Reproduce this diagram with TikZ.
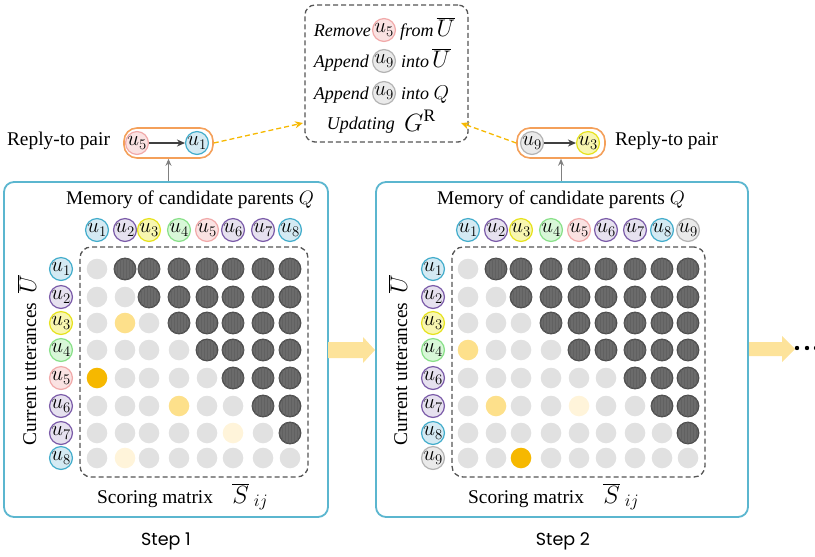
\RequirePackage{fix-cm}
\documentclass[tikz,border=0pt]{standalone}
\usepackage{fontspec}
\setmainfont{Liberation Serif}
\newfontfamily\stepfont{Poppins}
\usetikzlibrary{arrows.meta,patterns}
\definecolor{cyanbox}{HTML}{5BB6CF}
\definecolor{orangebox}{HTML}{F4A05A}
\definecolor{dashor}{HTML}{F6B800}
\definecolor{arrowyel}{HTML}{FDE39A}
\definecolor{cellgray}{HTML}{E1E1E1}
\definecolor{celldark}{HTML}{6B6B6B}
\definecolor{celldarkb}{HTML}{4E4E4E}
\definecolor{cellyel}{HTML}{FDE08B}
\definecolor{cellor}{HTML}{F6B800}
\definecolor{cellpale}{HTML}{FFF4DA}
\definecolor{bluef}{HTML}{D4EAF3}\definecolor{blued}{HTML}{41ACCB}
\definecolor{purf}{HTML}{E6E1EF}\definecolor{purd}{HTML}{7A5AA8}
\definecolor{yelf}{HTML}{F8F6B0}\definecolor{yeld}{HTML}{E6E21C}
\definecolor{grnf}{HTML}{D8F7D8}\definecolor{grnd}{HTML}{88E088}
\definecolor{pnkf}{HTML}{FAE2E2}\definecolor{pnkd}{HTML}{F1A9A9}
\definecolor{gryf}{HTML}{EAEAEA}\definecolor{gryd}{HTML}{B3B3B3}
\definecolor{dashgray}{HTML}{555555}
\newcommand\bigUbar{{\fontsize{24}{24}\selectfont$\overline{U}$}}
\newcommand\bigSbar{{\fontsize{25}{25}\selectfont$\overline{S}_{\;ij}$}}
\begin{document}
\begin{tikzpicture}[x=1pt,y=-1pt,
  txt/.style={font=\fontsize{19.4}{23}\selectfont, inner sep=0pt},
  itx/.style={font=\fontsize{18}{20}\selectfont\itshape, inner sep=0pt},
  ulab/.style={circle, minimum size=20.5pt, inner sep=0pt, line width=1.2pt, font=\fontsize{21}{21}\selectfont},
  lab1/.style={ulab, fill=bluef, draw=blued},
  lab2/.style={ulab, fill=purf, draw=purd},
  lab3/.style={ulab, fill=yelf, draw=yeld},
  lab4/.style={ulab, fill=grnf, draw=grnd},
  lab5/.style={ulab, fill=pnkf, draw=pnkd},
  lab6/.style={ulab, fill=purf, draw=purd},
  lab7/.style={ulab, fill=purf, draw=purd},
  lab8/.style={ulab, fill=bluef, draw=blued},
  lab9/.style={ulab, fill=gryf, draw=gryd},
  cellbase/.style={circle, minimum size=20.6pt, inner sep=0pt},
  cellL/.style={cellbase, fill=cellgray},
  cellY/.style={cellbase, fill=cellyel},
  cellO/.style={cellbase, fill=cellor},
  cellP/.style={cellbase, fill=cellpale},
  cellD/.style={cellbase, minimum size=21.5pt, fill=celldark, draw=celldarkb, line width=1.3pt,
    postaction={pattern=vertical lines, pattern color=black!62}},
  stepbox/.style={draw=cyanbox, line width=1.8pt, rounded corners=10pt, inner sep=0pt},
  gridbox/.style={draw=dashgray, line width=1.3pt, dash pattern=on 5pt off 3pt, rounded corners=11pt, inner sep=0pt},
  pairbox/.style={draw=orangebox, line width=1.6pt, rounded corners=13pt, inner sep=0pt},
  grayarrow/.style={draw=gray, line width=1pt, -{Stealth[length=7pt,width=6pt]}},
  innerarrow/.style={draw=black!75, line width=1.2pt, -{Stealth[length=8pt,width=7pt]}},
  dasharrow/.style={draw=dashor, line width=1.3pt, dash pattern=on 5pt off 3pt, -{Stealth[length=8pt,width=7pt]}},
  steplabel/.style={font=\stepfont\fontsize{17.5}{18}\selectfont, inner sep=0pt},
]
\useasboundingbox (0,0) rectangle (815,557);

% step boxes
\node[stepbox, minimum width=324pt, minimum height=335pt] (s1) at (166,349.5) {};
\node[stepbox, minimum width=372pt, minimum height=335pt] (s2) at (562,349.5) {};

% grid boxes
\node[gridbox, minimum width=228pt, minimum height=230pt] (g1) at (194,362) {};
\node[gridbox, minimum width=253pt, minimum height=230pt] (g2) at (578.5,362) {};

% top box
\node[gridbox, rounded corners=10pt, minimum width=163pt, minimum height=137pt] (top) at (386.5,73.5) {};
\node[itx, anchor=base east] (r1a) at (371,36) {Remove};
\node[lab5] (r1u) at (384,30) {$u_5$};
\node[itx, anchor=base west] (r1b) at (400,36) {from\,\bigUbar};
\node[itx, anchor=base east] (r2a) at (369,67) {Append};
\node[lab9] (r2u) at (384,61) {$u_9$};
\node[itx, anchor=base west] (r2b) at (401,67) {into\,\bigUbar};
\node[itx, anchor=base east] (r3a) at (369,99) {Append};
\node[lab9] (r3u) at (384,93) {$u_9$};
\node[itx, anchor=base west] (r3b) at (401,99) {into {\fontsize{20}{20}\selectfont$Q$}};
\node[itx, anchor=base east] (r4a) at (395,129) {Updating};
\node[anchor=base west, inner sep=0pt] (r4b) at (404,131) {\fontsize{25}{25}\selectfont$G^{\mathrm{R}}$};

% reply-to pairs
\node[pairbox, minimum width=89pt, minimum height=30pt] (pair1) at (168.5,143) {};
\node[lab5] (p1a) at (137,143) {$u_5$};
\node[lab1] (p1b) at (197,143) {$u_1$};
\draw[innerarrow] (p1a) -- (p1b);
\node[txt] (rp1) at (58.5,141) {Reply-to pair};

\node[pairbox, minimum width=88pt, minimum height=30pt] (pair2) at (561,143) {};
\node[lab9] (p2a) at (532,143) {$u_9$};
\node[lab3] (p2b) at (588,143) {$u_3$};
\draw[innerarrow] (p2a) -- (p2b);
\node[txt] (rp2) at (666.5,141) {Reply-to pair};

\draw[grayarrow] (pair1.south |- s1.north) -- (pair1.south);
\draw[grayarrow] (pair2.south |- s2.north) -- (pair2.south);

\coordinate (tl) at (303,123);
\coordinate (tr) at (461,123);
\draw[dasharrow] (pair1.east) -- (tl);
\draw[dasharrow] (pair2.west) -- (tr);

% titles
\node[txt] (m1) at (190,200) {Memory of candidate parents $Q$};
\node[txt] (m2) at (561,200) {Memory of candidate parents $Q$};
\node[txt, anchor=base west] (sc1) at (97,503) {Scoring matrix\quad\bigSbar};
\node[txt, anchor=base west] (sc2) at (468,503) {Scoring matrix\quad\bigSbar};
\node[txt, rotate=90] (cu1) at (27,360) {Current utterances\ \ \bigUbar};
\node[txt, rotate=90] (cu2) at (398,360) {Current utterances\ \ \bigUbar};
\node[steplabel] (st1) at (166,541) {Step 1};
\node[steplabel] (st2) at (563,541) {Step 2};

% big arrows
\fill[arrowyel] (328,342) -- (363,342) -- (363,337) -- (375,350) -- (363,363) -- (363,358) -- (328,358) -- cycle;
\fill[arrowyel] (749,342) -- (782,342) -- (782,336) -- (795,349) -- (782,362) -- (782,356) -- (749,356) -- cycle;
\fill (797,348) circle (2.2pt);
\fill (807,348) circle (2.2pt);
\fill (816,348) circle (2.2pt);

% matrices
\def\ysA{{269,297,323,350,378,406,433,458}}
\def\xsA{{97,125,149,179,207,233,263,290}}
\def\xsB{{468,496,521,551,579,606,635,662,688}}
\foreach \k [count=\j] in {1,...,8}{
  \pgfmathsetmacro\xx{\xsA[\j-1]}
  \node[style/.expanded=lab\k] (h1-\k) at (\xx,230) {$u_{\k}$};
  \pgfmathsetmacro\yy{\ysA[\j-1]}
  \node[style/.expanded=lab\k] (v1-\k) at (61,\yy) {$u_{\k}$};
}
\foreach \k [count=\j] in {1,...,9}{
  \pgfmathsetmacro\xx{\xsB[\j-1]}
  \node[style/.expanded=lab\k] (h2-\k) at (\xx,230) {$u_{\k}$};
}
\foreach \k [count=\j] in {1,2,3,4,6,7,8,9}{
  \pgfmathsetmacro\yy{\ysA[\j-1]}
  \node[style/.expanded=lab\k] (v2-\k) at (433,\yy) {$u_{\k}$};
}
\foreach \rw [count=\i] in {{L,D,D,D,D,D,D,D},{L,L,D,D,D,D,D,D},{L,Y,L,D,D,D,D,D},{L,L,L,L,D,D,D,D},{O,L,L,L,L,D,D,D},{L,L,L,Y,L,L,D,D},{L,L,L,L,L,P,L,D},{L,P,L,L,L,L,L,L}}{
  \pgfmathsetmacro\yy{\ysA[\i-1]}
  \foreach \c [count=\j] in \rw {
    \pgfmathsetmacro\xx{\xsA[\j-1]}
    \node[style/.expanded=cell\c] (a\i-\j) at (\xx,\yy) {};
  }
}
\foreach \rw [count=\i] in {{L,D,D,D,D,D,D,D,D},{L,L,D,D,D,D,D,D,D},{L,L,L,D,D,D,D,D,D},{Y,L,L,L,D,D,D,D,D},{L,L,L,L,L,L,D,D,D},{L,Y,L,L,P,L,L,D,D},{L,L,L,L,L,L,L,L,D},{L,L,O,L,L,L,L,L,L}}{
  \pgfmathsetmacro\yy{\ysA[\i-1]}
  \foreach \c [count=\j] in \rw {
    \pgfmathsetmacro\xx{\xsB[\j-1]}
    \node[style/.expanded=cell\c] (b\i-\j) at (\xx,\yy) {};
  }
}
\end{tikzpicture}
\end{document}
